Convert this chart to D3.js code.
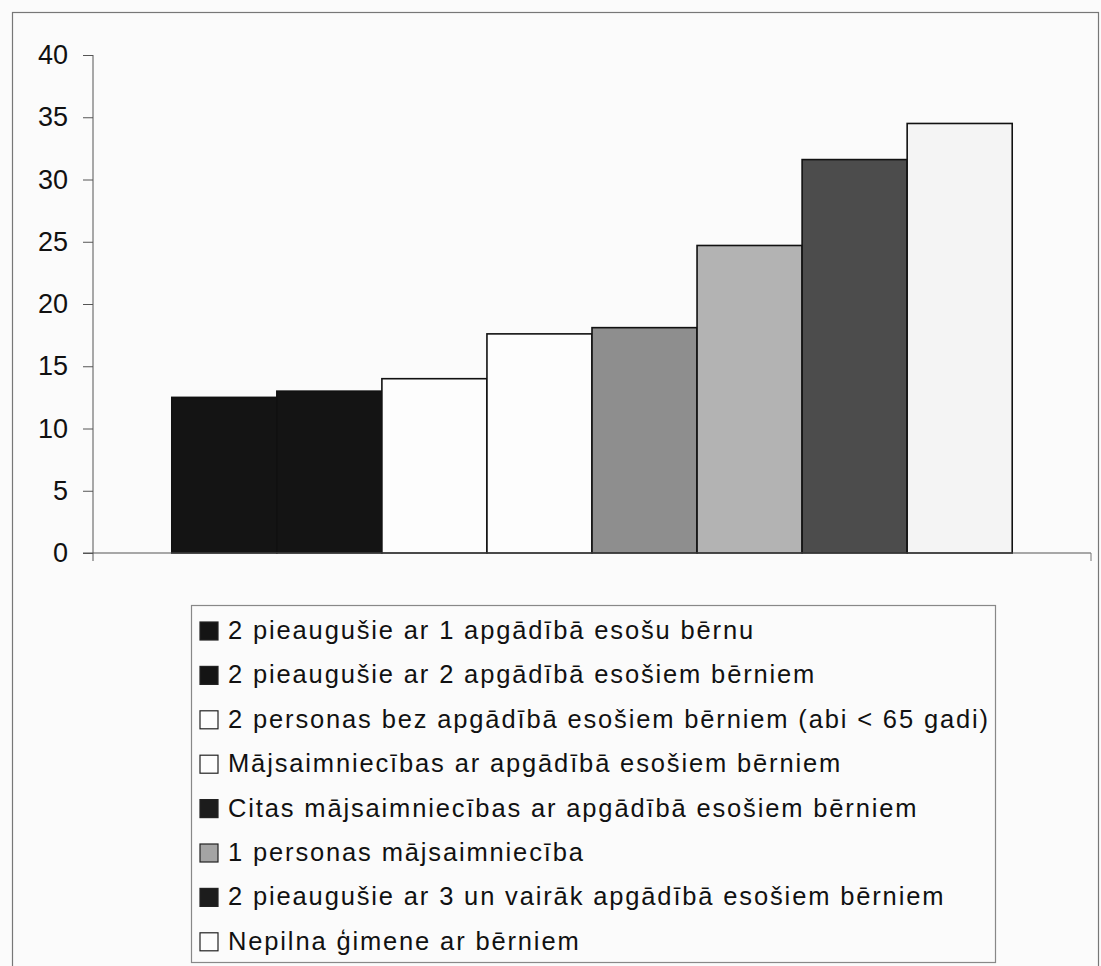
<!DOCTYPE html>
<html>
<head>
<meta charset="utf-8">
<script src="https://cdn.jsdelivr.net/npm/d3@7"></script>
<style>
  body { margin: 0; background: #fbfbfb; }
  svg { display: block; font-family: "Liberation Sans", Arial, sans-serif; }
</style>
</head>
<body>
<svg></svg>
<script>
var screenWidth = 1101
var screenHeight = 966

// data
var categories = [
  "2 pieaugušie ar 1 apgādībā esošu bērnu",
  "2 pieaugušie ar 2 apgādībā esošiem bērniem",
  "2 personas bez apgādībā esošiem bērniem (abi < 65 gadi)",
  "Mājsaimniecības ar apgādībā esošiem bērniem",
  "Citas mājsaimniecības ar apgādībā esošiem bērniem",
  "1 personas mājsaimniecība",
  "2 pieaugušie ar 3 un vairāk apgādībā esošiem bērniem",
  "Nepilna ģimene ar bērniem"
]
var values = [12.5, 13.0, 14.0, 17.6, 18.1, 24.7, 31.6, 34.5]
var yTicks = [0, 5, 10, 15, 20, 25, 30, 35, 40]

var barColors = ["#141414", "#141414", "#fdfdfd", "#fdfdfd", "#8e8e8e", "#b3b3b3", "#4c4c4c", "#f4f4f4"]
var swatchColors = ["#141414", "#141414", "#fdfdfd", "#fdfdfd", "#1c1c1c", "#a4a4a4", "#1c1c1c", "#fdfdfd"]

var svg = d3.select('svg')
svg.attr("width", screenWidth)
svg.attr("height", screenHeight)

// outer frame
svg.append("rect")
  .attr("x", 12.5).attr("y", 12.5)
  .attr("width", 1086).attr("height", 1000)
  .attr("fill", "#fbfbfb")
  .attr("stroke", "#777").attr("stroke-width", 1.2)

var plotLeft = 93, plotRight = 1091
var plotTop = 55, plotBottom = 553

var x = d3.scaleBand()
  .domain(categories)
  .range([plotLeft, plotRight])
  .paddingInner(0)
  .paddingOuter(0.75)   // gap width 150%

var y = d3.scaleLinear()
  .domain([0, 40])
  .range([plotBottom, plotTop])

// bars
svg.append("g")
  .selectAll("rect")
  .data(values)
  .join("rect")
  .attr("x", (d, i) => x(categories[i]))
  .attr("y", d => y(d))
  .attr("width", x.bandwidth())
  .attr("height", d => y(0) - y(d))
  .attr("fill", (d, i) => barColors[i])
  .attr("stroke", "#111")
  .attr("stroke-width", 1.6)

// y axis
var yAxis = d3.axisLeft(y)
  .tickValues(yTicks)
  .tickSize(10)
  .tickPadding(15)

var gy = svg.append("g")
  .attr("transform", "translate(" + plotLeft + ",0)")
  .call(yAxis)
gy.select(".domain").attr("stroke", "#555").attr("d", "M0," + plotTop + "V" + (plotBottom + 8))
gy.selectAll(".tick line").attr("stroke", "#555")
gy.selectAll(".tick text")
  .attr("font-size", 27)
  .attr("fill", "#111")
  .attr("font-family", "Liberation Sans, Arial, sans-serif")

// x axis baseline
svg.append("line")
  .attr("x1", plotLeft - 10).attr("x2", plotRight)
  .attr("y1", plotBottom).attr("y2", plotBottom)
  .attr("stroke", "#555").attr("stroke-width", 1.2)
svg.append("line")
  .attr("x1", plotRight).attr("x2", plotRight)
  .attr("y1", plotBottom).attr("y2", plotBottom + 8)
  .attr("stroke", "#777")

// legend
var legendX = 191, legendY = 605
var legendW = 804, legendH = 357
var rowH = 44.4

svg.append("rect")
  .attr("x", legendX + 0.5).attr("y", legendY + 0.5)
  .attr("width", legendW).attr("height", legendH)
  .attr("fill", "#fbfbfb")
  .attr("stroke", "#888").attr("stroke-width", 1.2)

var rows = svg.append("g")
  .selectAll("g")
  .data(categories)
  .join("g")
  .attr("transform", (d, i) => "translate(" + legendX + "," + (legendY + 34 + i * rowH) + ")")

rows.append("rect")
  .attr("x", 9).attr("y", -17)
  .attr("width", 18).attr("height", 18)
  .attr("fill", (d, i) => swatchColors[i])
  .attr("stroke", "#222").attr("stroke-width", 1.2)

var labels = rows.append("text")
  .attr("x", 37)
  .attr("y", 0)
  .attr("font-size", 25.5)
  .attr("fill", "#111")
  .text(d => d)

// stretch letter spacing so the longest line spans like the reference
var longest = labels.filter((d, i) => i == 2).node()
var w = longest.getComputedTextLength()
var spacing = (760 - w) / (categories[2].length - 1)
labels.attr("letter-spacing", spacing)
</script>
</body>
</html>
